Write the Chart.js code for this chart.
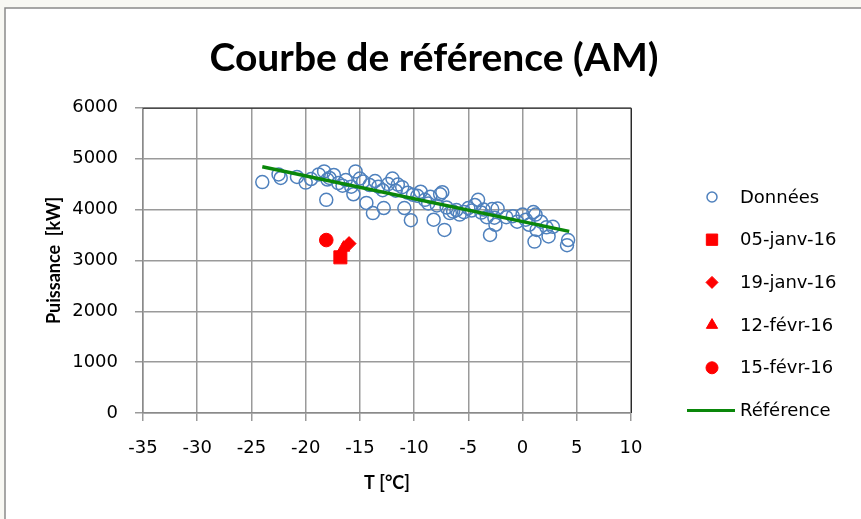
<!DOCTYPE html>
<html lang="fr">
<head>
<meta charset="utf-8">
<title>Courbe de référence (AM)</title>
<script src="https://cdn.jsdelivr.net/npm/chart.js@4.4.1/dist/chart.umd.min.js"></script>
<style>
    html, body { margin: 0; padding: 0; background: #f8f8f3; }
    #wrap { width: 861px; height: 519px; position: relative; }
</style>
</head>
<body>
<div id="wrap"><canvas id="refChart"></canvas></div>
<script>
// --- Data ---
const tempValues = [
    -24.0, -22.5, -22.3, -20.8, -20.0, -19.5, -18.8, -18.3, -18.0, -17.8,
    -17.4, -18.1, -17.0, -16.6, -16.3, -15.8, -15.6, -15.4, -15.0, -14.7,
    -14.4, -14.1, -13.8, -13.6, -13.3, -12.9, -12.8, -12.4, -12.0, -11.7,
    -11.5, -11.1, -10.9, -10.6, -10.3, -10.1, -9.7, -9.4, -9.0, -8.7,
    -8.5, -8.2, -7.9, -7.6, -7.4, -7.2, -7.0, -6.7, -6.4, -6.1,
    -5.8, -5.4, -5.0, -4.7, -4.4, -4.1, -3.8, -3.6, -3.3, -3.0,
    -2.8, -2.6, -2.5, -2.3, -1.5, -0.9, -0.5, 0.0, 0.3, 0.6,
    1.0, 1.2, 1.3, 1.1, 1.7, 2.2, 2.4, 2.8, 4.2, 4.1
];
const powerValues = [
    4540, 4690, 4620, 4640, 4530, 4600, 4690, 4750, 4590, 4620,
    4680, 4190, 4520, 4470, 4580, 4450, 4300, 4750, 4610, 4550,
    4130, 4480, 3930, 4560, 4450, 4380, 4030, 4500, 4610, 4370,
    4490, 4440, 4030, 4330, 3790, 4290, 4270, 4350, 4190, 4120,
    4250, 3800, 4080, 4300, 4340, 3600, 4040, 3930, 3960, 3990,
    3900, 3950, 4030, 3980, 4090, 4190, 3940, 4000, 3850, 3500,
    4010, 3840, 3700, 4020, 3850, 3870, 3760, 3900, 3800, 3700,
    3950, 3900, 3600, 3370, 3760, 3650, 3470, 3660, 3400, 3300
];

// Individual days (red markers)
const dayLabels = ['05-janv-16', '19-janv-16', '12-févr-16', '15-févr-16'];
const dayTemps = [-16.8, -16.0, -16.5, -18.1];
const dayPowers = [3060, 3330, 3250, 3400];
const dayStyles = ['rect', 'rectRot', 'triangle', 'circle'];

// Reference line end points
const refTemps = [-24.0, 4.3];
const refPowers = [4840, 3570];

// Axis ranges / ticks
const xMin = -35, xMax = 10, xStep = 5;
const yMin = 0, yMax = 6000, yStep = 1000;

const toPoints = (xs, ys) => xs.map((x, i) => ({ x: x, y: ys[i] }));

// --- Plugins ---
// Grey page background with the chart frame
const framePlugin = {
    id: 'frame',
    beforeDraw(chart) {
        const { ctx, width, height } = chart;
        ctx.save();
        ctx.fillStyle = '#f8f8f3';
        ctx.fillRect(0, 0, width, height);
        ctx.fillStyle = '#ffffff';
        ctx.fillRect(5, 8, width - 5, height - 8);
        ctx.strokeStyle = '#8a8a8a';
        ctx.lineWidth = 1.5;
        ctx.beginPath();
        ctx.moveTo(5, height);
        ctx.lineTo(5, 8);
        ctx.lineTo(width, 8);
        ctx.stroke();
        ctx.restore();
    },
    beforeDatasetsDraw(chart) {
        // dark top / right edge of the plot area
        const { ctx, chartArea } = chart;
        ctx.save();
        ctx.strokeStyle = '#2b2b2b';
        ctx.lineWidth = 1;
        ctx.beginPath();
        ctx.moveTo(chartArea.left, chartArea.top + 0.5);
        ctx.lineTo(chartArea.right + 0.5, chartArea.top + 0.5);
        ctx.lineTo(chartArea.right + 0.5, chartArea.bottom);
        ctx.stroke();
        ctx.restore();
    }
};

// Legend on the right, drawn like the spreadsheet one
const sideLegend = {
    id: 'sideLegend',
    afterDraw(chart) {
        const { ctx, chartArea } = chart;
        const markX = chartArea.right + 81;
        const textX = chartArea.right + 109;
        const rowGap = 42.7;
        const legendSizes = [5, 8, 6, 6.5, 6];
        ctx.save();
        ctx.font = '18px "DejaVu Sans"';
        ctx.textBaseline = 'middle';
        ctx.textAlign = 'left';
        chart.data.datasets.forEach((ds, i) => {
            const y = 197 + i * rowGap;
            if (ds.type === 'line') {
                ctx.strokeStyle = ds.borderColor;
                ctx.lineWidth = 3;
                ctx.beginPath();
                ctx.moveTo(chartArea.right + 56, y);
                ctx.lineTo(chartArea.right + 104, y);
                ctx.stroke();
            } else {
                ctx.fillStyle = ds.backgroundColor;
                ctx.strokeStyle = ds.borderColor;
                ctx.lineWidth = ds.borderWidth;
                Chart.helpers.drawPoint(ctx, {
                    pointStyle: ds.pointStyle,
                    radius: legendSizes[i],
                    rotation: 0,
                    borderWidth: ds.borderWidth
                }, markX, y);
            }
            ctx.fillStyle = '#000000';
            ctx.fillText(ds.label, textX, y + 1);
        });
        ctx.restore();
    }
};

// --- Chart ---
const dayDatasets = dayLabels.map((label, i) => ({
    label: label,
    data: [{ x: dayTemps[i], y: dayPowers[i] }],
    pointStyle: dayStyles[i],
    pointRadius: [9.2, 7, 7, 6.8][i],
    backgroundColor: '#ff0000',
    borderColor: '#ff0000',
    borderWidth: 1,
    order: 1
}));

const plainNumber = (value) => String(value);

const ctx = document.getElementById('refChart').getContext('2d');
const refChart = new Chart(ctx, {
    type: 'scatter',
    data: {
        datasets: [
            {
                label: 'Données',
                data: toPoints(tempValues, powerValues),
                pointStyle: 'circle',
                pointRadius: 6.5,
                borderColor: '#4f81bd',
                backgroundColor: 'rgba(255,255,255,0)',
                borderWidth: 1.5,
                order: 2
            },
            ...dayDatasets,
            {
                type: 'line',
                label: 'Référence',
                data: toPoints(refTemps, refPowers),
                borderColor: '#0a870a',
                backgroundColor: '#0a870a',
                borderWidth: 3.5,
                pointRadius: 0,
                order: 0
            }
        ]
    },
    options: {
        responsive: true,
        maintainAspectRatio: false,
        animation: false,
        layout: { padding: { left: 7, right: 0, top: 0, bottom: 16 } },
        plugins: {
            legend: { display: false },
            tooltip: { enabled: false },
            title: {
                display: true,
                text: 'Courbe de référence (AM)',
                color: '#000000',
                font: { family: 'Lato', size: 39, weight: 'bold' },
                padding: { top: 35, bottom: 26 }
            }
        },
        scales: {
            x: {
                type: 'linear',
                position: 'bottom',
                min: xMin,
                max: xMax,
                ticks: {
                    stepSize: xStep,
                    color: '#000000',
                    padding: 17,
                    font: { family: 'DejaVu Sans', size: 18 },
                    callback: plainNumber
                },
                grid: { color: '#9a9a9a', lineWidth: 1.5, tickLength: 8 },
                border: { color: '#8a8a8a', width: 1.5 },
                title: {
                    display: true,
                    text: 'T [°C]',
                    color: '#000000',
                    font: { family: 'Lato', size: 18, weight: 'bold' },
                    padding: { top: 0, bottom: 9 }
                },
                afterFit: (scale) => { scale.height = 90; }
            },
            y: {
                type: 'linear',
                position: 'left',
                min: yMin,
                max: yMax,
                ticks: {
                    stepSize: yStep,
                    color: '#000000',
                    padding: 17,
                    font: { family: 'DejaVu Sans', size: 18 },
                    callback: plainNumber
                },
                grid: { color: '#9a9a9a', lineWidth: 1.5, tickLength: 8 },
                border: { color: '#8a8a8a', width: 1.5 },
                title: {
                    display: true,
                    text: 'Puissance  [kW]',
                    color: '#000000',
                    font: { family: 'Lato', size: 18, weight: 'bold' },
                    padding: { top: 36, bottom: 0 }
                },
                afterFit: (scale) => { scale.width = 136; }
            },
            // empty axis that only keeps room for the legend
            legendSpace: {
                type: 'linear',
                position: 'right',
                display: true,
                grid: { display: false },
                border: { display: false },
                ticks: { display: false },
                afterFit: (scale) => { scale.width = 230; }
            }
        }
    },
    plugins: [framePlugin, sideLegend]
});
</script>
</body>
</html>
